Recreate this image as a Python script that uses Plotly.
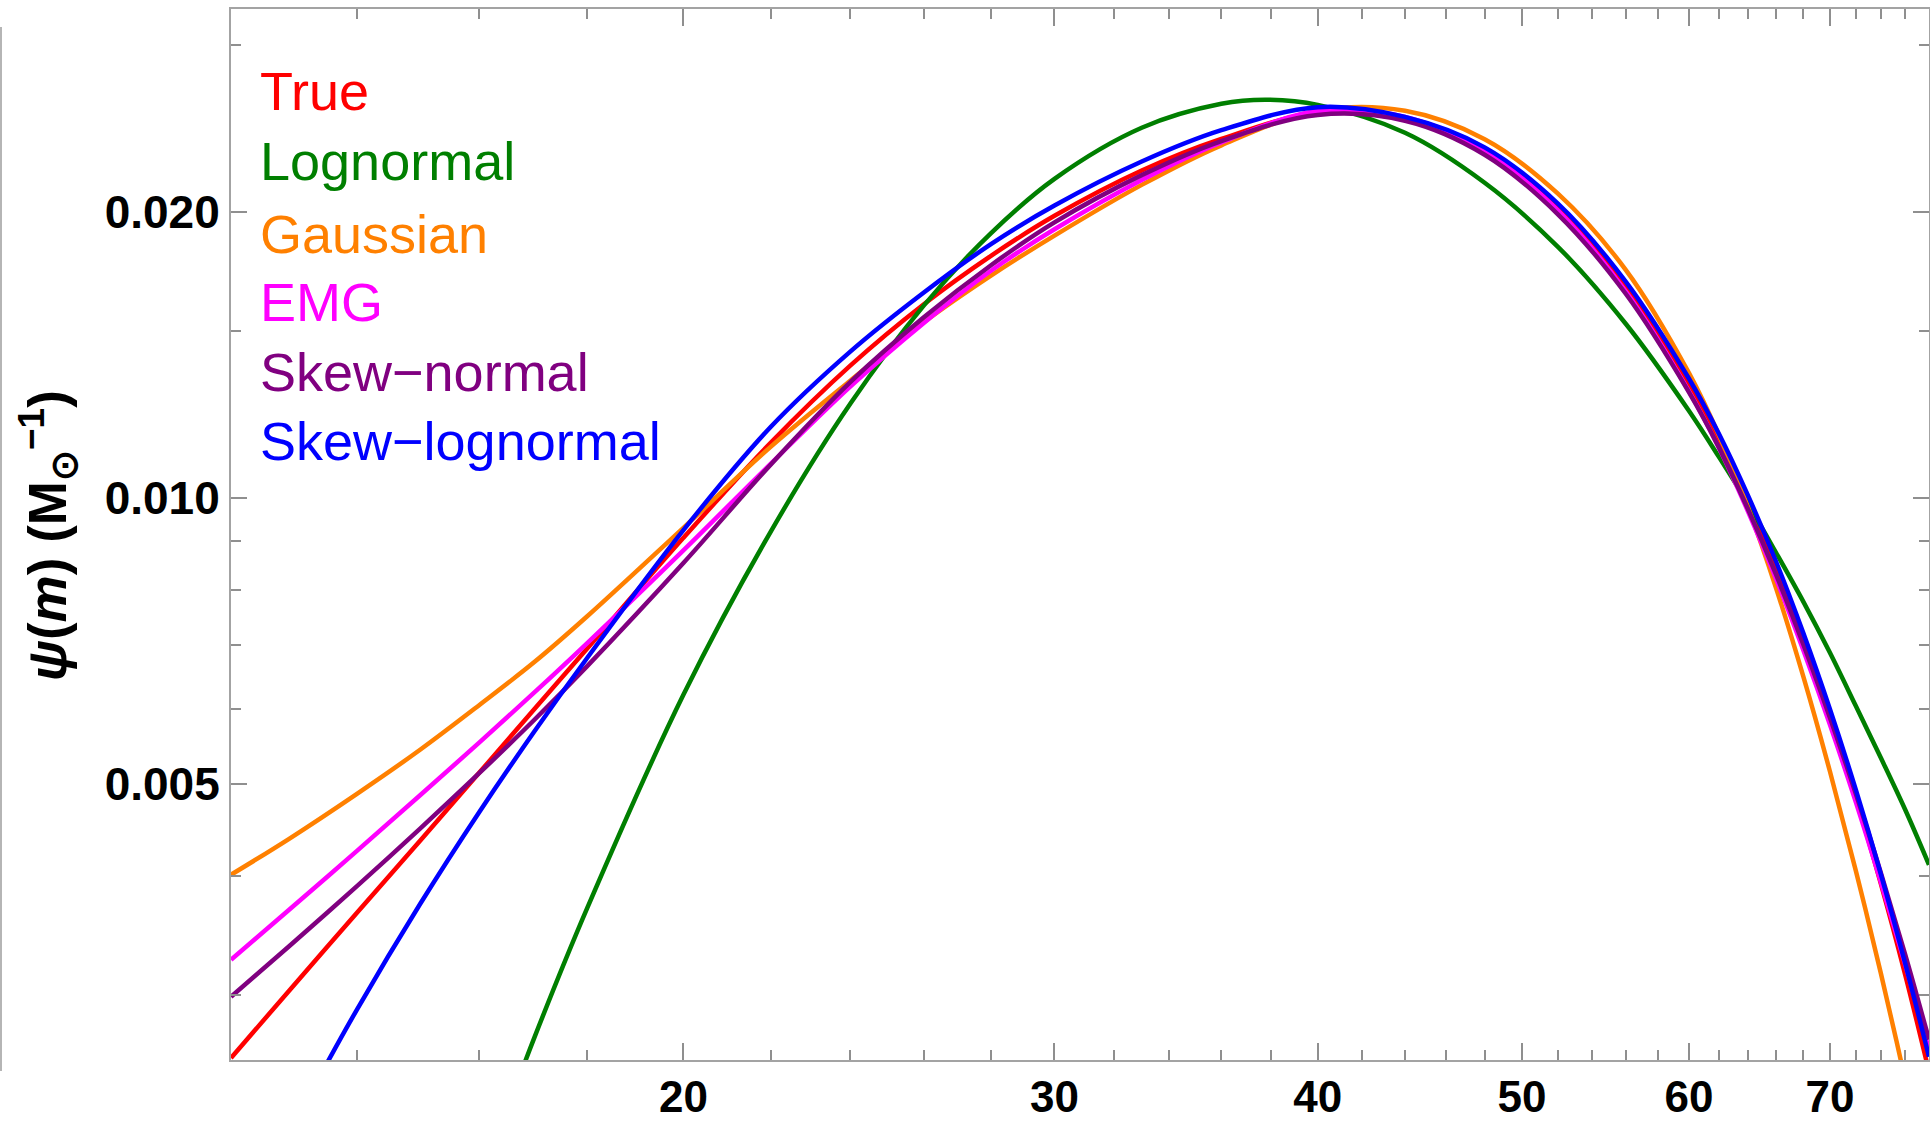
import math
import plotly.graph_objects as go

# ---- data ----
series_names = ["True", "Lognormal", "Gaussian", "EMG", "Skew−normal", "Skew−lognormal"]
series_colors = ["#ff0000", "#007f00", "#ff8000", "#ff00ff", "#800080", "#0000ff"]

m_true = [12.2, 13, 14, 15, 16, 17, 18, 20, 22, 24, 26, 28, 30, 33, 36, 40, 44, 48, 52, 56, 60, 62, 64, 66, 68, 70, 72, 74, 76, 78]
psi_true = [0.002573, 0.003028, 0.003658, 0.004355, 0.005135, 0.005997, 0.006936, 0.009075, 0.011426, 0.013776,
            0.015978, 0.017989, 0.019810, 0.022106, 0.023866, 0.025427, 0.025002, 0.023324, 0.020279, 0.016722,
            0.013180, 0.011484, 0.009863, 0.008379, 0.007047, 0.005869, 0.004832, 0.003925, 0.003146, 0.002489]

m_logn = [16.7, 17, 18, 20, 22, 24, 26, 28, 30, 33, 36, 37.8, 40, 44, 48, 52, 56, 60, 62, 64, 66, 68, 70, 72, 74, 76, 78]
psi_logn = [0.00244, 0.002708, 0.003694, 0.006203, 0.009209, 0.012559, 0.015924, 0.019009, 0.021665, 0.024520,
            0.025986, 0.026241, 0.025920, 0.024225, 0.021460, 0.018375, 0.015249, 0.012351, 0.011044, 0.009858,
            0.008753, 0.007772, 0.006868, 0.006040, 0.005325, 0.004695, 0.004109]

m_gauss = [12.2, 13, 14, 15, 16, 17, 18, 20, 22, 24, 26, 28, 30, 33, 36, 40, 44, 48, 52, 56, 60, 62, 64, 66, 68, 70, 72, 74, 75.3, 76]
psi_gauss = [0.004011, 0.004376, 0.004880, 0.005430, 0.006050, 0.006720, 0.007500, 0.009299, 0.011314, 0.013283,
             0.015300, 0.017150, 0.018880, 0.021350, 0.023500, 0.025550, 0.025550, 0.023850, 0.020899, 0.017379,
             0.013538, 0.011645, 0.009779, 0.008033, 0.006478, 0.005151, 0.004054, 0.003160, 0.002673, 0.002438]

m_emg = [12.2, 13, 14, 15, 16, 17, 18, 20, 22, 24, 26, 28, 30, 33, 36, 40, 44, 48, 52, 56, 60, 62, 64, 66, 68, 70, 72, 74, 76, 78]
psi_emg = [0.003264, 0.003684, 0.004250, 0.004863, 0.005524, 0.006243, 0.007028, 0.008804, 0.010859, 0.013094,
           0.015271, 0.017351, 0.019172, 0.021605, 0.023669, 0.025537, 0.025176, 0.023184, 0.020071, 0.016492,
           0.012951, 0.011291, 0.009678, 0.008215, 0.006906, 0.005769, 0.004786, 0.003940, 0.003225, 0.002625]

m_skewn = [12.2, 13, 14, 15, 16, 17, 18, 20, 22, 24, 26, 28, 30, 33, 36, 40, 44, 48, 52, 56, 60, 62, 64, 66, 68, 70, 72, 74, 76, 78]
psi_skewn = [0.002984, 0.003373, 0.003902, 0.004486, 0.005130, 0.005843, 0.006647, 0.008539, 0.010837, 0.013236,
             0.015478, 0.017584, 0.019498, 0.021861, 0.023745, 0.025298, 0.024938, 0.022966, 0.019882, 0.016399,
             0.012921, 0.011301, 0.009732, 0.008299, 0.007006, 0.005869, 0.004883, 0.004031, 0.003304, 0.002690]

m_skewln = [13.4, 14, 15, 16, 17, 18, 20, 22, 24, 26, 28, 30, 33, 36, 40, 44, 48, 52, 56, 60, 62, 64, 66, 68, 70, 72, 74, 76, 78]
psi_skewln = [0.002429, 0.002893, 0.003736, 0.004667, 0.005682, 0.006779, 0.009247, 0.011872, 0.014252, 0.016439,
              0.018507, 0.020310, 0.022594, 0.024378, 0.025777, 0.025173, 0.023384, 0.020405, 0.016889, 0.013353,
              0.011680, 0.010058, 0.008564, 0.007200, 0.005990, 0.004932, 0.004017, 0.003234, 0.002580]

x_tick_vals = [20, 30, 40, 50, 60, 70]
x_tick_text = ["20", "30", "40", "50", "60", "70"]
x_minor_vals = [14, 16, 18, 22, 24, 26, 28, 32, 34, 36, 38, 42, 44, 46, 48, 52, 54, 56, 58, 62, 64, 66, 68, 72, 74, 76]
y_tick_vals = [0.005, 0.010, 0.020]
y_tick_text = ["0.005", "0.010", "0.020"]
y_minor_vals = [0.003, 0.004, 0.006, 0.007, 0.008, 0.009, 0.015, 0.030]
x_range = [12.2, 78]
y_range = [0.00256, 0.0327]

# ---- figure ----
all_m = [m_true, m_logn, m_gauss, m_emg, m_skewn, m_skewln]
all_psi = [psi_true, psi_logn, psi_gauss, psi_emg, psi_skewn, psi_skewln]

fig = go.Figure()
for name, color, mx, py in zip(series_names, series_colors, all_m, all_psi):
    fig.add_trace(go.Scatter(x=mx, y=py, mode="lines", name=name,
                             line=dict(color=color, width=4.5, shape="spline", smoothing=1.0),
                             showlegend=False, hoverinfo="skip"))

frame_color = "#a3a3a3"
tick_color = "#8f8f8f"
y_tick_font = dict(family="Liberation Sans, Arial, sans-serif", size=46, color="black", weight="bold")
x_tick_font = dict(family="Liberation Sans, Arial, sans-serif", size=44, color="black", weight="bold")

fig.update_xaxes(type="log", range=[math.log10(x_range[0]), math.log10(x_range[1])],
                 automargin=False,
                 showline=True, linecolor=frame_color, linewidth=2, mirror="allticks",
                 ticks="inside", ticklen=17, tickwidth=1.5, tickcolor=tick_color,
                 tickmode="array", tickvals=x_tick_vals, ticktext=x_tick_text,
                 tickfont=x_tick_font, ticklabelstandoff=-3,
                 minor=dict(tickmode="array", tickvals=x_minor_vals, ticks="inside", ticklen=10,
                            tickwidth=1.5, tickcolor=tick_color, showgrid=False),
                 showgrid=False, zeroline=False)
fig.update_yaxes(type="log", range=[math.log10(y_range[0]), math.log10(y_range[1])],
                 automargin=False,
                 showline=True, linecolor=frame_color, linewidth=2, mirror="allticks",
                 ticks="inside", ticklen=16, tickwidth=1.5, tickcolor=tick_color,
                 tickmode="array", tickvals=y_tick_vals, ticktext=y_tick_text,
                 tickfont=y_tick_font, ticklabelstandoff=0,
                 minor=dict(tickmode="array", tickvals=y_minor_vals, ticks="inside", ticklen=10,
                            tickwidth=1.5, tickcolor=tick_color, showgrid=False),
                 showgrid=False, zeroline=False)

W, H = 1930, 1123
L, R, T, B = 231, 1, 9, 63
pw, ph = W - L - R, H - T - B


def px_to_paper_x(px):
    return (px - L) / pw


def px_to_paper_y(py):
    return (H - B - py) / ph


annotations = []
legend_y_px = [91, 161, 234, 302, 372, 441]
for name, color, ypx in zip(series_names, series_colors, legend_y_px):
    annotations.append(dict(text=name, x=px_to_paper_x(258), y=px_to_paper_y(ypx), xref="paper", yref="paper",
                            xanchor="left", yanchor="middle", showarrow=False,
                            font=dict(family="Liberation Sans, Arial, sans-serif", size=54, color=color)))

annotations.append(dict(text="<b><i>ψ</i>(<i>m</i>) (M<sub>⊙</sub><sup>−1</sup>)</b>",
                        x=px_to_paper_x(48), y=px_to_paper_y(536), xref="paper", yref="paper",
                        xanchor="center", yanchor="middle", showarrow=False, textangle=-90,
                        font=dict(family="Liberation Sans, Arial, sans-serif", size=53, color="black")))

fig.update_layout(width=W, height=H, margin=dict(l=L, r=R, t=T, b=B, pad=0, autoexpand=False),
                  plot_bgcolor="white", paper_bgcolor="white",
                  annotations=annotations,
                  shapes=[dict(type="line", xref="paper", yref="paper",
                               x0=px_to_paper_x(1), x1=px_to_paper_x(1),
                               y0=px_to_paper_y(27), y1=px_to_paper_y(1071),
                               line=dict(color="#b5b5b5", width=2))])

fig.write_html("out.html")
